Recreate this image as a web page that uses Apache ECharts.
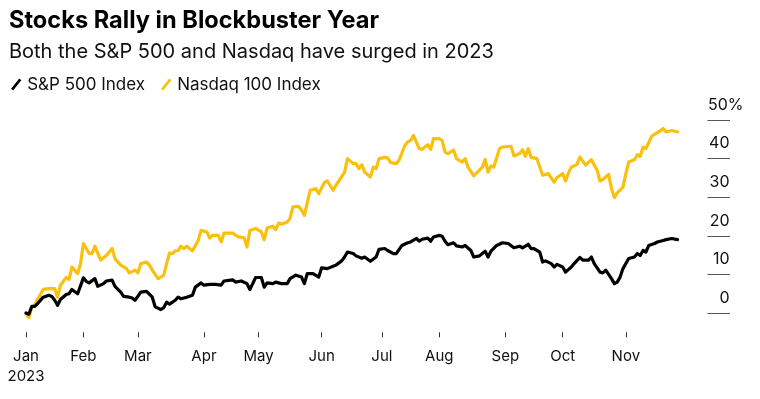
<!DOCTYPE html>
<html>
<head>
<meta charset="utf-8">
<script src="https://cdn.jsdelivr.net/npm/echarts@6/dist/echarts.min.js"></script>
<style>
  html, body { margin: 0; padding: 0; background: #fff; }
  #chart { width: 760px; height: 399px; }
</style>
</head>
<body>
<div id="chart"></div>
<script>
// trading-day index (0 = Jan 3) and YTD % change
const spDay = [0,1,2,3,4,6,8,9,10,11,12,14,15,16,18,20,21,22,24,25,27,28,30,31,33,34,36,37,38,40,42,44,45,47,48,49,50,52,53,54,56,58,59,61,62,64,66,68,69,72,73,75,77,78,79,80,82,83,84,86,87,89,91,92,94,96,97,98,100,102,103,105,107,108,110,111,112,114,115,117,118,120,122,123,125,126,128,129,131,133,134,136,137,138,140,141,142,144,145,146,147,149,150,152,153,155,156,158,159,160,161,162,164,166,168,170,172,173,175,176,177,179,180,181,183,184,185,187,188,190,191,193,194,196,197,198,200,201,202,204,205,206,207,208,210,212,213,214,215,216,217,219,220,222,223,225,227]
const spPct = [0,-0.3,1.7,1.7,2.4,4.1,4.6,4.3,3.3,2.0,3.5,4.8,5.0,6.1,5.0,9.1,8.2,7.8,8.9,6.9,7.6,8.3,8.5,6.9,5.4,4.3,4.1,3.9,3.3,5.4,5.6,4.1,1.6,0.9,1.4,2.8,2.3,3.3,4.1,3.7,4.1,4.6,6.7,7.8,7.2,7.4,7.4,7.2,8.3,8.6,8.0,8.3,7.6,6.1,7.6,9.2,9.2,6.7,7.8,7.6,8.0,7.6,7.6,8.9,9.8,9.3,7.6,10.2,10.2,9.3,11.7,11.5,12.1,12.4,13.5,14.5,15.8,15.4,14.8,14.2,14.5,13.4,14.5,16.5,16.7,16.2,15.4,15.4,17.5,18.2,18.4,19.3,18.6,19.1,19.4,18.6,19.7,20.1,19.9,18.6,17.7,18.2,17.4,17.1,17.5,16.2,14.5,14.8,15.4,16.0,14.5,16.0,17.5,18.2,18.0,16.9,17.3,16.9,17.8,16.7,16.7,15.8,13.2,13.5,12.8,11.9,12.6,11.9,10.6,11.9,12.8,14.4,13.7,13.7,14.5,12.8,10.6,10.4,11.1,8.9,7.6,8.0,9.3,11.5,14.1,14.5,15.4,14.9,16.2,15.8,17.5,18.0,18.4,18.8,19.0,19.3,19.0]

const ndxDay = [0,1,2,3,4,6,8,10,11,12,14,15,16,18,19,20,22,23,24,26,28,30,31,33,35,36,38,39,40,42,43,44,46,47,48,49,50,51,52,53,54,55,56,58,60,61,63,64,65,67,68,69,72,74,76,77,78,80,82,83,84,86,87,88,89,91,92,93,95,96,97,99,101,102,104,105,107,108,109,111,112,114,115,116,117,118,120,121,122,123,125,126,127,129,130,132,133,134,135,136,137,138,140,141,142,144,145,146,147,149,150,152,153,154,156,158,159,160,161,162,163,165,166,169,170,172,173,174,175,176,178,180,182,184,185,187,188,189,190,192,193,195,197,199,200,201,203,204,205,206,208,209,210,212,213,214,215,216,218,219,221,222,223,225,227]
const ndxPct = [-0.2,-1.2,1.5,2.0,3.5,6.1,6.3,6.3,4.1,7.2,9.2,8.7,11.9,10.2,12.8,18.0,15.4,15.4,17.3,13.7,14.9,16.7,14.1,12.4,11.5,10.4,11.1,10.4,12.8,13.2,12.4,11.1,8.9,9.3,9.8,12.8,15.5,15.4,16.1,16.2,17.3,16.7,17.3,16.1,18.8,21.4,21.0,19.4,20.1,20.1,18.4,20.7,20.7,19.7,19.5,17.1,21.4,21.9,21.0,19.0,22.0,22.5,21.6,23.3,23.0,23.6,24.5,27.5,27.6,26.6,25.3,31.8,32.2,30.9,33.9,34.2,31.8,33.1,34.2,36.5,40.0,38.7,38.7,37.4,38.4,36.5,35.2,37.8,37.4,40.0,40.3,40.2,39.0,38.7,39.6,43.4,44.3,44.7,46.0,44.3,42.6,42.4,43.6,42.4,45.2,45.2,44.7,41.7,41.3,42.2,40.0,39.1,40.0,37.8,35.5,37.0,37.8,39.8,36.5,38.1,37.8,42.6,43.0,43.2,40.7,41.3,42.3,40.6,42.6,40.3,40.0,35.7,36.1,33.9,35.1,36.1,34.2,36.3,37.8,38.5,40.4,38.3,39.7,37.0,34.2,34.6,35.9,32.2,29.9,31.1,32.6,36.1,39.1,39.7,41.0,40.6,43.0,42.6,45.8,46.3,47.2,47.8,46.9,47.3,46.9]

const monthStarts = [0, 20, 39, 62, 81, 103, 124, 144, 167, 187, 209]
const monthNames = ['Jan', 'Feb', 'Mar', 'Apr', 'May', 'Jun', 'Jul', 'Aug', 'Sep', 'Oct', 'Nov']
const yTicks = [0, 10, 20, 30, 40, 50]

const font = 'Inter, "Liberation Sans", Arial, sans-serif'
const yellow = '#f9c00c'
const slash = 'path://M0,10 L8,0 L10,1.6 L2,11.6 Z'

const chart = echarts.init(document.getElementById('chart'))

const option = {
  animation: false,
  backgroundColor: '#fff',
  title: [
    {
      text: 'Stocks Rally in Blockbuster Year',
      left: 4,
      top: 4,
      textStyle: { fontFamily: font, fontSize: 23.6, fontWeight: 700, color: '#000' }
    },
    {
      text: 'Both the S&P 500 and Nasdaq have surged in 2023',
      left: 4,
      top: 37,
      textStyle: { fontFamily: font, fontSize: 20, fontWeight: 400, color: '#111' }
    }
  ],
  legend: {
    left: 6,
    top: 71,
    itemWidth: 12,
    itemHeight: 12,
    itemGap: 16,
    textStyle: { fontFamily: font, fontSize: 17, color: '#111', padding: [0, 0, 0, 0] },
    data: [
      { name: 'S&P 500 Index', icon: slash },
      { name: 'Nasdaq 100 Index', icon: slash }
    ]
  },
  grid: {
    left: 26,
    right: 82.5,
    top: 120,
    bottom: 66.7
  },
  xAxis: {
    type: 'value',
    min: 0,
    max: 227,
    splitLine: { show: false },
    axisLine: { show: false, onZero: false },
    axisTick: {
      show: true,
      length: 5,
      customValues: monthStarts,
      lineStyle: { color: '#333', width: 1 }
    },
    axisLabel: {
      customValues: monthStarts,
      margin: 14,
      fontFamily: font,
      fontSize: 15,
      lineHeight: 20,
      color: '#111',
      formatter: v => {
        const i = monthStarts.indexOf(v)
        return i === 0 ? monthNames[0] + '\n2023' : monthNames[i]
      }
    }
  },
  yAxis: {
    type: 'value',
    position: 'right',
    offset: 30,
    min: -5,
    max: 50,
    splitLine: { show: false },
    axisLine: { show: false, onZero: false },
    axisTick: {
      show: true,
      length: 22.5,
      customValues: yTicks,
      lineStyle: { color: '#555', width: 1 }
    },
    axisLabel: {
      customValues: yTicks,
      margin: 36,
      align: 'right',
      verticalAlign: 'bottom',
      fontFamily: font,
      fontSize: 16,
      color: '#111',
      formatter: v => v === 50 ? '{n|50%}' : '{n|' + v + '}{p|}',
      rich: {
        n: { fontFamily: font, fontSize: 16, color: '#111', padding: [0, 0, 7, 0] },
        p: { width: 14 }
      }
    }
  },
  series: [
    {
      name: 'Nasdaq 100 Index',
      type: 'line',
      showSymbol: false,
      color: yellow,
      lineStyle: { color: yellow, width: 3.2, join: 'round', cap: 'round' },
      data: ndxDay.map((d, i) => [d, ndxPct[i]])
    },
    {
      name: 'S&P 500 Index',
      type: 'line',
      showSymbol: false,
      color: '#000',
      lineStyle: { color: '#000', width: 3.2, join: 'round', cap: 'round' },
      data: spDay.map((d, i) => [d, spPct[i]])
    }
  ]
}

chart.setOption(option)
</script>
</body>
</html>
